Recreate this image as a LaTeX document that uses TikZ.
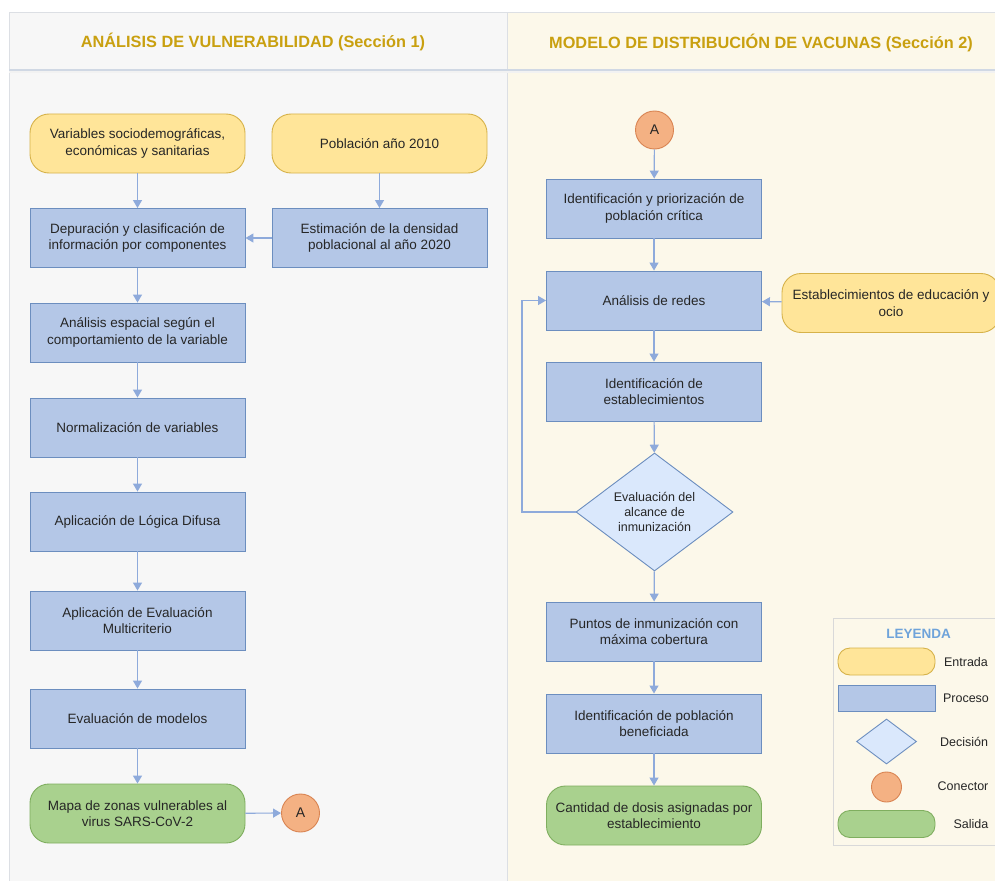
\documentclass[tikz,border=0pt]{standalone}
\usepackage{fontspec}
\setmainfont{Liberation Sans}
\usetikzlibrary{shapes.geometric,arrows.meta}
\definecolor{laneL}{HTML}{F7F7F7}
\definecolor{laneR}{HTML}{FCF8EA}
\definecolor{laneline}{HTML}{DCDFE4}
\definecolor{headline}{HTML}{D0D8E4}
\definecolor{headtxt}{HTML}{C9A010}
\definecolor{legtxt}{HTML}{6FA3DA}
\definecolor{inFill}{HTML}{FFE599}
\definecolor{inDraw}{HTML}{D6B24A}
\definecolor{prFill}{HTML}{B4C7E7}
\definecolor{prDraw}{HTML}{6C8EBF}
\definecolor{dcFill}{HTML}{DAE8FC}
\definecolor{dcDraw}{HTML}{6C8EBF}
\definecolor{cnFill}{HTML}{F4B183}
\definecolor{cnDraw}{HTML}{D98452}
\definecolor{outFill}{HTML}{A9D18E}
\definecolor{outDraw}{HTML}{7FAE5F}
\definecolor{arr}{HTML}{8EAADB}
\tikzset{
  base/.style={font=\fontsize{13.5}{16.5}\selectfont, text=black!85, align=center, inner sep=2pt},
  inbox/.style={base, draw=inDraw, fill=inFill, line width=0.9pt, rounded corners=19pt, minimum height=59pt, minimum width=215pt},
  prbox/.style={base, draw=prDraw, fill=prFill, line width=0.9pt, minimum height=59pt, minimum width=215pt},
  outbox/.style={base, draw=outDraw, fill=outFill, line width=0.9pt, rounded corners=19pt, minimum height=59pt, minimum width=215pt},
  decbox/.style={base, diamond, shape aspect=1.33, draw=dcDraw, fill=dcFill, line width=0.9pt, minimum width=157pt, minimum height=118pt, inner sep=0pt, font=\fontsize{12.5}{15}\selectfont},
  conn/.style={base, circle, draw=cnDraw, fill=cnFill, line width=0.9pt, minimum size=38pt, inner sep=0pt, font=\fontsize{14}{16}\selectfont},
  flow/.style={draw=arr, line width=1.2pt, -{Triangle[length=8pt,width=9pt]}},
  headtext/.style={font=\bfseries\fontsize{16.3}{18}\selectfont, text=headtxt},
  legtext/.style={font=\fontsize{12.5}{15}\selectfont, text=black!85}
}
\begin{document}
\begin{tikzpicture}[x=1pt,y=-1pt]
\useasboundingbox (0,0) rectangle (995,880);
% lanes
\fill[white] (0,0) rectangle (995,880);
\fill[laneL] (9,13) rectangle (507,882);
\fill[laneR] (507,13) rectangle (997,882);
\draw[laneline, line width=1pt] (9,882) -- (9,13) -- (997,13);
\draw[laneline, line width=1pt] (507,13) -- (507,882);
\draw[headline, line width=1.2pt] (9,70) -- (997,70);
\draw[black!5, line width=1.5pt] (9,72) -- (997,72);
\node[headtext] (h1) at (253,42) {ANÁLISIS DE VULNERABILIDAD (Sección 1)};
\node[headtext] (h2) at (761,43) {MODELO DE DISTRIBUCIÓN DE VACUNAS (Sección 2)};

% section 1
\node[inbox] (var) at (137.5,143.5) {Variables sociodemográficas,\\económicas y sanitarias};
\node[inbox] (pob) at (379.5,143.5) {Población año 2010};
\node[prbox] (dep) at (137.5,238) {Depuración y clasificación de\\información por componentes};
\node[prbox] (est) at (379.5,238) {Estimación de la densidad\\poblacional al año 2020};
\node[prbox] (esp) at (137.5,332.5) {Análisis espacial según el\\comportamiento de la variable};
\node[prbox] (nor) at (137.5,427.5) {Normalización de variables};
\node[prbox] (dif) at (137.5,521.5) {Aplicación de Lógica Difusa};
\node[prbox] (mcr) at (137.5,620.5) {Aplicación de Evaluación\\Multicriterio};
\node[prbox] (evm) at (137.5,718.5) {Evaluación de modelos};
\node[outbox] (map) at (137.5,813.5) {Mapa de zonas vulnerables al\\virus SARS-CoV-2};
\node[conn] (ca1) at (300.5,813) {A};

\draw[flow] (var) -- (dep);
\draw[flow] (pob) -- (est);
\draw[flow] (est) -- (dep);
\draw[flow] (dep) -- (esp);
\draw[flow] (esp) -- (nor);
\draw[flow] (nor) -- (dif);
\draw[flow] (dif) -- (mcr);
\draw[flow] (mcr) -- (evm);
\draw[flow] (evm) -- (map);
\draw[flow] (map) -- (ca1);

% section 2
\node[conn] (ca2) at (654.5,130) {A};
\node[prbox] (ide) at (654,208.5) {Identificación y priorización de\\población crítica};
\node[prbox] (red) at (654,300.5) {Análisis de redes};
\node[inbox, minimum width=218pt] (edu) at (891,303) {Establecimientos de educación y\\ocio};
\node[prbox] (ies) at (654,391.5) {Identificación de\\establecimientos};
\node[decbox] (alc) at (654.5,512) {Evaluación del\\alcance de\\inmunización};
\node[prbox] (pun) at (654,631.5) {Puntos de inmunización con\\máxima cobertura};
\node[prbox] (ben) at (654,723.5) {Identificación de población\\beneficiada};
\node[outbox] (dos) at (654,815.5) {Cantidad de dosis asignadas por\\establecimiento};
\coordinate (lp1) at (522,512);
\coordinate (lp2) at (522,300.5);

\draw[flow] (ca2) -- (ide);
\draw[flow] (ide) -- (red);
\draw[flow] (edu) -- (red);
\draw[flow] (red) -- (ies);
\draw[flow] (ies) -- (alc);
\draw[flow] (alc) -- (pun);
\draw[flow] (pun) -- (ben);
\draw[flow] (ben) -- (dos);
\draw[flow] (alc.west) -- (lp1) -- (lp2) -- (red.west);

% legend
\draw[black!15, fill=laneR, line width=1pt] (833,618) rectangle (999,845);
\node[font=\bfseries\fontsize{13.5}{15}\selectfont, text=legtxt] (lgt) at (918.5,634) {LEYENDA};
\node[draw=inDraw, fill=inFill, line width=0.9pt, rounded corners=12pt, minimum width=97pt, minimum height=27pt, inner sep=0pt] (l1) at (886.5,661.5) {};
\node[legtext] (t1) at (966,662) {Entrada};
\node[draw=prDraw, fill=prFill, line width=0.9pt, minimum width=97pt, minimum height=26pt, inner sep=0pt] (l2) at (886.5,698) {};
\node[legtext] (t2) at (966,698) {Proceso};
\node[diamond, draw=dcDraw, fill=dcFill, line width=0.9pt, minimum width=60pt, minimum height=45pt, inner sep=0pt] (l3) at (886.5,741.5) {};
\node[legtext] (t3) at (964,742) {Decisión};
\node[circle, draw=cnDraw, fill=cnFill, line width=0.9pt, minimum size=30pt, inner sep=0pt] (l4) at (886.5,787) {};
\node[legtext] (t4) at (963,786) {Conector};
\node[draw=outDraw, fill=outFill, line width=0.9pt, rounded corners=12pt, minimum width=97pt, minimum height=27pt, inner sep=0pt] (l5) at (886.5,824) {};
\node[legtext] (t5) at (971,824) {Salida};
\end{tikzpicture}
\end{document}
